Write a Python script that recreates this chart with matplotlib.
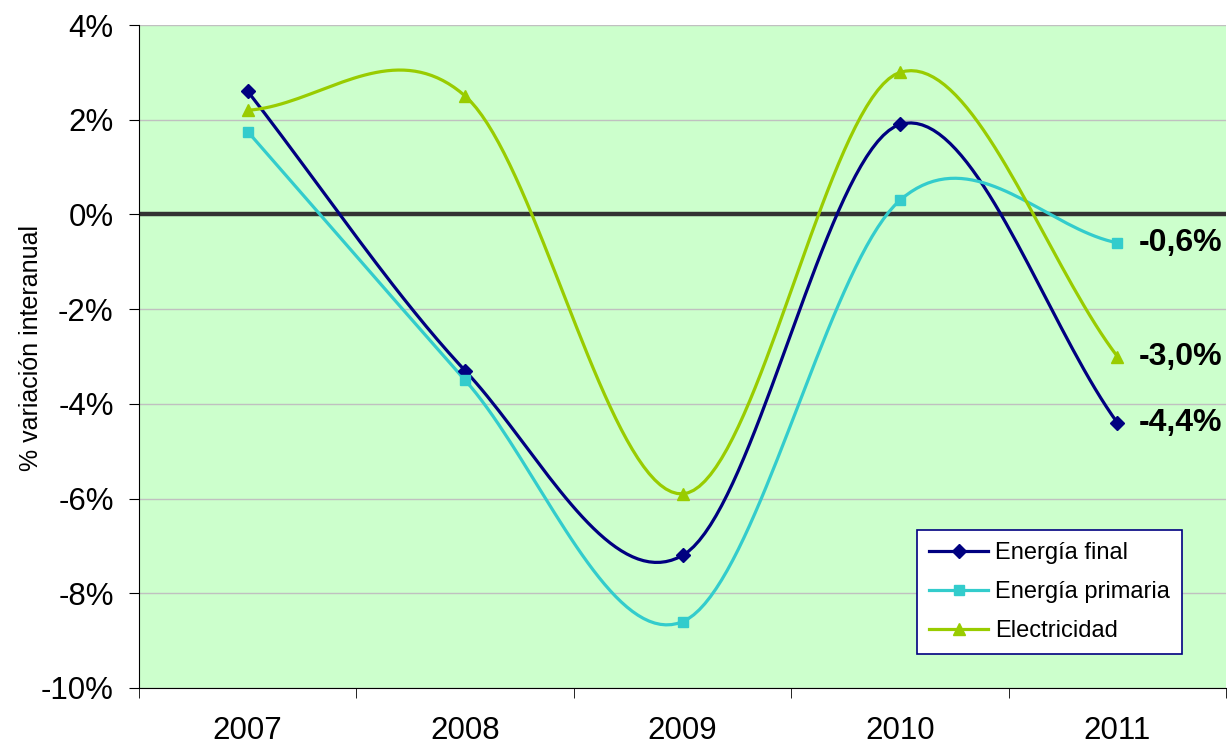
import numpy as np
import matplotlib.pyplot as plt

plt.rcParams['font.family'] = ['Liberation Sans', 'DejaVu Sans']

# Data (% variacion interanual)
years = ['2007', '2008', '2009', '2010', '2011']
energia_final = [2.6, -3.3, -7.2, 1.9, -4.4]
energia_primaria = [1.75, -3.5, -8.6, 0.3, -0.6]
electricidad = [2.2, 2.5, -5.9, 3.0, -3.0]
end_labels = ['-4,4%', '-0,6%', '-3,0%']


def smooth(y, n=40):
    # Excel-style smoothed line: Catmull-Rom tangents as cubic Hermite segments
    y = np.asarray(y, dtype=float)
    x = np.arange(len(y), dtype=float)
    tang = np.empty_like(y)
    tang[1:-1] = (y[2:] - y[:-2]) / 2.0
    tang[0] = y[1] - y[0]
    tang[-1] = y[-1] - y[-2]
    xs, ys = [], []
    t = np.linspace(0, 1, n)
    h00 = 2 * t**3 - 3 * t**2 + 1
    h10 = t**3 - 2 * t**2 + t
    h01 = -2 * t**3 + 3 * t**2
    h11 = t**3 - t**2
    for i in range(len(y) - 1):
        xs.append(x[i] + t)
        ys.append(h00 * y[i] + h10 * tang[i] + h01 * y[i + 1] + h11 * tang[i + 1])
    return np.concatenate(xs), np.concatenate(ys)


fig = plt.figure(figsize=(12.27, 7.47), dpi=100)
ax = fig.add_axes([0.1133, 0.079, 0.886, 0.8875])
ax.set_facecolor('#CCFFCC')

series = [
    ('Energía final', energia_final, '#000080', 'D', 7),
    ('Energía primaria', energia_primaria, '#33CCCC', 's', 7),
    ('Electricidad', electricidad, '#99CC00', '^', 9),
]

x = np.arange(len(years))
ax.axhline(0, color='#333333', lw=3.2, zorder=2)
for name, vals, col, mk, ms in series:
    sx, sy = smooth(vals)
    ax.plot(sx, sy, color=col, lw=2.3, zorder=3)
    ax.plot(x, vals, ls='none', marker=mk, ms=ms, color=col, zorder=4)
    ax.plot([], [], color=col, lw=2.3, marker=mk, ms=ms, label=name)

for (name, vals, col, mk, ms), lab in zip(series, end_labels):
    ax.text(4.1, vals[-1], lab, fontsize=23, fontweight='bold', va='center', ha='left')

ax.set_xlim(-0.5, 4.5)
ax.set_ylim(-10, 4)
ax.set_yticks(range(-10, 5, 2))
ax.set_yticklabels([f'{v}%' for v in range(-10, 5, 2)], fontsize=22.5)
ax.set_xticks(x)
ax.set_xticklabels(years, fontsize=22.5)
ax.set_xticks(np.arange(-0.5, 4.6, 1), minor=True)
ax.tick_params(axis='x', which='major', length=0, pad=20)
ax.tick_params(axis='x', which='minor', length=7.2, direction='out')
ax.tick_params(axis='y', length=7.2, direction='out', pad=11)
ax.yaxis.grid(True, color='#C0C0C0', lw=1)
ax.set_axisbelow(True)
for s in ['top', 'right']:
    ax.spines[s].set_visible(False)

ax.set_ylabel('% variación interanual', fontsize=18)
ax.yaxis.set_label_coords(-0.088, 0.513)

leg = ax.legend(loc='upper left', bbox_to_anchor=(0.716, 0.238), borderaxespad=0,
                fontsize=17, frameon=True, fancybox=False, handlelength=2.5,
                handletextpad=0.3, labelspacing=0.72, borderpad=0.5)
leg.get_frame().set_edgecolor('#000080')
leg.get_frame().set_linewidth(1.2)
leg.get_frame().set_alpha(1)

fig.savefig('out.png', dpi=100)
